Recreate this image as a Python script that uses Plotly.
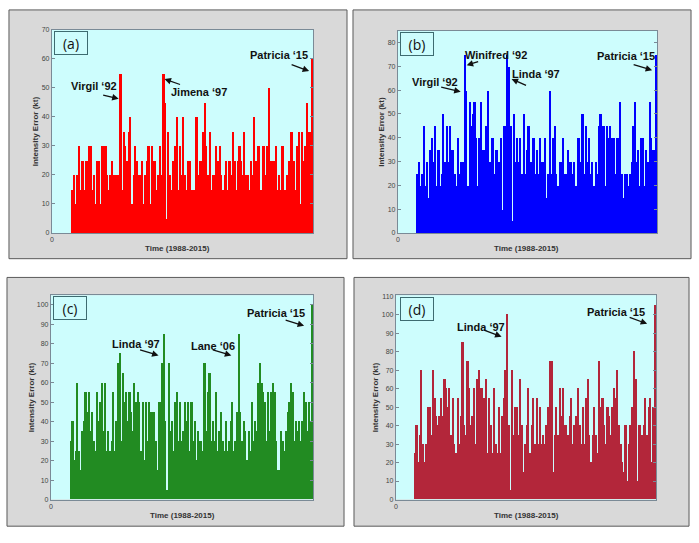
import plotly.graph_objects as go

W, H = 699, 543

# ---------------- data (intensity error, kt) ----------------
err_a = [15, 20, 10, 20, 30, 15, 25, 15, 25, 25, 30, 30, 15, 20, 10, 25, 25, 10, 30, 30,
         30, 20, 15, 20, 25, 20, 20, 20, 20, 55, 15, 35, 30, 25, 35, 40, 10, 20, 30, 25,
         20, 20, 25, 10, 20, 25, 30, 10, 30, 25, 25, 15, 20, 30, 20, 55, 45, 5, 35, 20,
         15, 25, 30, 40, 15, 30, 20, 40, 20, 15, 25, 25, 15, 15, 15, 40, 20, 25, 25, 35,
         45, 30, 20, 35, 15, 20, 20, 30, 25, 30, 20, 15, 20, 25, 15, 25, 20, 35, 25, 15,
         25, 30, 25, 20, 35, 20, 20, 15, 25, 20, 40, 25, 30, 30, 15, 30, 30, 20, 30, 50,
         25, 25, 25, 30, 15, 20, 15, 30, 15, 15, 20, 25, 35, 35, 25, 15, 30, 35, 10, 35,
         25, 30, 45, 35, 35, 60]

err_b = [25, 30, 20, 25, 45, 20, 30, 15, 35, 40, 30, 45, 20, 35, 20, 25, 50, 30, 45, 30,
         45, 35, 35, 25, 20, 40, 25, 30, 30, 75, 60, 20, 55, 45, 50, 55, 40, 20, 40, 55,
         35, 35, 45, 60, 30, 30, 40, 25, 35, 35, 30, 40, 10, 45, 45, 75, 70, 45, 5, 50,
         30, 40, 30, 40, 25, 50, 25, 35, 45, 30, 30, 40, 25, 35, 25, 40, 30, 30, 40, 15,
         25, 60, 25, 40, 45, 25, 20, 30, 30, 40, 25, 25, 35, 30, 30, 25, 30, 20, 40, 40,
         30, 50, 25, 45, 30, 40, 25, 30, 20, 30, 25, 45, 50, 45, 45, 20, 45, 40, 45, 40,
         40, 25, 40, 40, 55, 25, 15, 25, 25, 20, 25, 30, 45, 55, 30, 35, 20, 40, 40, 20,
         35, 30, 55, 40, 35, 35, 75]

err_c = [30, 40, 20, 25, 60, 25, 15, 35, 40, 55, 45, 55, 35, 45, 30, 25, 55, 40, 50, 60,
         35, 60, 25, 35, 25, 30, 55, 25, 40, 70, 75, 30, 65, 50, 55, 40, 55, 45, 35, 60,
         50, 55, 50, 25, 50, 20, 50, 30, 50, 45, 45, 45, 30, 15, 50, 50, 70, 85, 40, 5,
         70, 35, 40, 25, 50, 55, 30, 50, 30, 35, 50, 40, 50, 25, 50, 30, 40, 20, 35, 30,
         30, 25, 70, 35, 55, 65, 30, 40, 30, 55, 25, 35, 45, 30, 25, 40, 25, 30, 40, 50,
         25, 30, 45, 85, 45, 30, 40, 35, 20, 35, 25, 50, 30, 40, 35, 60, 70, 60, 55, 50,
         30, 55, 35, 55, 60, 55, 30, 15, 15, 35, 30, 25, 35, 45, 50, 60, 55, 30, 40, 35,
         40, 30, 40, 55, 50, 35, 50, 40, 100]

err_d = [25, 40, 20, 35, 70, 30, 20, 30, 50, 50, 35, 70, 55, 45, 40, 45, 55, 45, 65, 60,
         50, 60, 35, 55, 30, 25, 55, 30, 45, 85, 40, 35, 75, 60, 40, 45, 60, 30, 65, 70,
         60, 60, 55, 65, 25, 55, 40, 25, 60, 30, 25, 50, 25, 45, 55, 70, 100, 40, 5, 70,
         35, 50, 50, 35, 65, 40, 15, 30, 40, 60, 25, 40, 55, 30, 55, 30, 50, 30, 35, 30,
         40, 50, 75, 75, 15, 35, 50, 35, 60, 45, 60, 40, 40, 35, 45, 55, 30, 40, 45, 60,
         40, 30, 50, 30, 55, 65, 35, 20, 35, 50, 35, 25, 75, 50, 55, 40, 30, 50, 45, 35,
         50, 60, 55, 70, 40, 30, 20, 15, 40, 10, 30, 40, 50, 80, 65, 10, 40, 40, 35, 40,
         55, 35, 50, 55, 20, 50, 105]

panel_labels = ["(a)", "(b)", "(c)", "(d)"]
y_max = [70, 85, 105, 110.5]
y_top_tick = [70, 80, 100, 110]
x_title = "Time (1988-2015)"
y_title = "Intensity Error (kt)"

storms = [
    # (panel, text)
    (0, "Virgil ‘92"), (0, "Jimena ‘97"), (0, "Patricia ‘15"),
    (1, "Winifred ‘92"), (1, "Virgil ‘92"), (1, "Linda ‘97"), (1, "Patricia ‘15"),
    (2, "Linda ‘97"), (2, "Lane ‘06"), (2, "Patricia ‘15"),
    (3, "Linda ‘97"), (3, "Patricia ‘15"),
]

series = [err_a, err_b, err_c, err_d]
colors = ["#ff0000", "#0000ff", "#228b22", "#b3263a"]

# ---------------- layout geometry (pixels) ----------------
# plot areas: (left, right, top, bottom, data-start-x)
areas = [(50, 312, 26, 232, 70), (397, 657, 27, 232, 415.7),
         (49, 312, 295, 502, 68.3), (395, 656, 295, 502, 413.3)]
boxes = [(7, 346, 6, 258), (352, 691, 6, 258), (5, 343, 277, 529), (353, 689, 277, 529)]
label_pos = [(69.5, 40), (416, 41), (68, 308), (416, 309)]
ytitle_pos = [33, 381, 29, 374]
xtitle_pos = [(176, 248), (526, 248), (181, 518), (526, 518)]

# storm text centres and arrows (tail, head) in pixels
storm_geom = [
    ((92, 83), (100, 92), (117, 96)),
    ((198, 89), (180, 82), (163, 76)),
    ((278, 52), (289, 61), (308, 68)),
    ((495, 52), (479, 58), (466, 62)),
    ((434, 79), (439, 84), (460, 89)),
    ((536, 71), (527, 83), (511, 76)),
    ((626, 53), (632, 61), (652, 67)),
    ((134, 344), (137, 350), (157, 356)),
    ((212, 346), (210, 350), (230, 356)),
    ((275, 313), (283, 320), (303, 326)),
    ((480, 327), (482, 330), (501, 337)),
    ((616, 312), (628, 317), (647, 324)),
]


def px(x):
    return x / W


def py(y):
    return 1 - y / H


fig = go.Figure()
shapes = []
annotations = []

for k in range(4):
    vals = series[k]
    left, right, top, bottom, dstart = areas[k]
    n = len(vals)
    s = n * (dstart - left) / (right - dstart)
    xs = [s + i + 0.5 for i in range(n)]
    xa = "x" if k == 0 else f"x{k+1}"
    ya = "y" if k == 0 else f"y{k+1}"
    fig.add_trace(go.Bar(x=xs, y=vals, width=1.0, marker=dict(color=colors[k], line=dict(width=0)),
                         xaxis=xa, yaxis=ya, showlegend=False, hoverinfo="y"))
    axis_common = dict(showline=True, mirror="ticks", linecolor="#7a8a96", linewidth=1,
                       ticks="inside", ticklen=3, tickcolor="#7a8a96", showgrid=False,
                       zeroline=False, tickfont=dict(family="Liberation Sans", size=7, color="#444"))
    xkey = "xaxis" if k == 0 else f"xaxis{k+1}"
    ykey = "yaxis" if k == 0 else f"yaxis{k+1}"
    fig.update_layout(**{
        xkey: dict(domain=[px(left), px(right)], range=[0, s + n], tickvals=[0], ticktext=["0"],
                   anchor=ya, **axis_common),
        ykey: dict(domain=[py(bottom), py(top)], range=[0, y_max[k]],
                   tickvals=list(range(0, y_top_tick[k] + 1, 10)), anchor=xa, **axis_common),
    })
    # panel background box
    bx0, bx1, by0, by1 = boxes[k]
    shapes.append(dict(type="rect", xref="paper", yref="paper", x0=px(bx0), x1=px(bx1),
                       y0=py(by1), y1=py(by0), fillcolor="#d9d9d9",
                       line=dict(color="#5a5a5a", width=1), layer="below"))
    shapes.append(dict(type="rect", xref="paper", yref="paper", x0=px(left), x1=px(right),
                       y0=py(bottom), y1=py(top), fillcolor="#cdfdfd",
                       line=dict(width=0), layer="below"))
    # panel label
    lx, ly = label_pos[k]
    annotations.append(dict(xref="paper", yref="paper", x=px(lx), y=py(ly), text=panel_labels[k],
                            showarrow=False, font=dict(family="Open Sans", size=14, color="#111"),
                            bordercolor="#3d6b70", borderwidth=1, width=30, height=20,
                            xanchor="center", yanchor="middle"))
    # axis titles
    annotations.append(dict(xref="paper", yref="paper", x=px(ytitle_pos[k]),
                            y=py((top + bottom) / 2), text=f"<b>{y_title}</b>", textangle=-90,
                            showarrow=False, font=dict(family="Liberation Sans", size=8, color="#333"),
                            xanchor="center", yanchor="middle"))
    tx, ty = xtitle_pos[k]
    annotations.append(dict(xref="paper", yref="paper", x=px(tx), y=py(ty),
                            text=f"<b>{x_title}</b>", showarrow=False,
                            font=dict(family="Liberation Sans", size=8, color="#333"),
                            xanchor="center", yanchor="middle"))

for (panel, text), (tc, tail, head) in zip(storms, storm_geom):
    annotations.append(dict(xref="paper", yref="paper", x=px(tc[0]), y=py(tc[1]),
                            text=f"<b>{text}</b>", showarrow=False,
                            font=dict(family="Liberation Sans", size=11, color="#111"),
                            xanchor="center", yanchor="middle"))
    annotations.append(dict(xref="paper", yref="paper", x=px(head[0]), y=py(head[1]),
                            ax=tail[0] - head[0], ay=tail[1] - head[1], text="",
                            showarrow=True, arrowhead=2, arrowsize=1, arrowwidth=1.3,
                            arrowcolor="#111", standoff=0, startstandoff=0))

fig.update_layout(width=W, height=H, margin=dict(l=0, r=0, t=0, b=0),
                  paper_bgcolor="white", plot_bgcolor="rgba(0,0,0,0)",
                  bargap=0, shapes=shapes, annotations=annotations, showlegend=False)

fig.write_html("out.html")
